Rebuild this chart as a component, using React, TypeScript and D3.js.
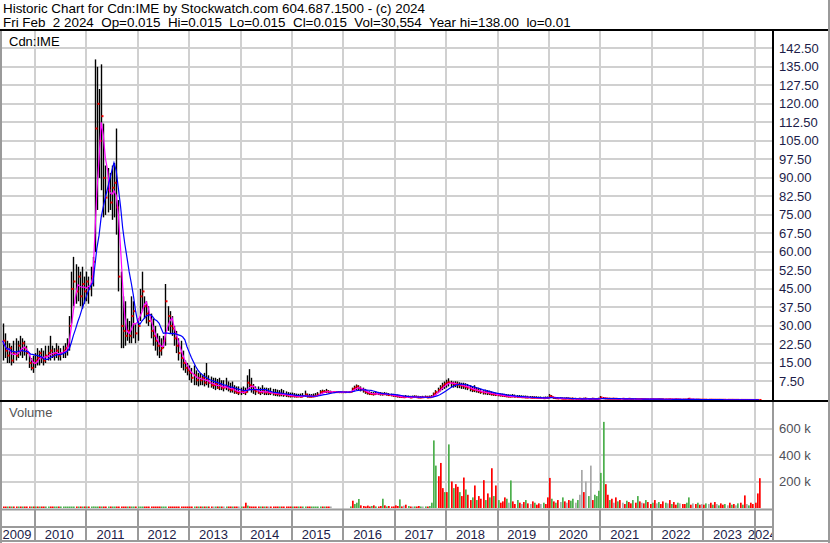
import React from 'react';
import * as d3 from 'd3';

// ---------- text ----------
const HEADER1 = 'Historic Chart for Cdn:IME by Stockwatch.com 604.687.1500 - (c) 2024';
const HEADER2 = 'Fri Feb  2 2024  Op=0.015  Hi=0.015  Lo=0.015  Cl=0.015  Vol=30,554  Year hi=138.00  lo=0.01';
const SYMBOL = 'Cdn:IME';
const VOLUME_TITLE = 'Volume';

// ---------- axes ----------
const PRICE_TICKS = [7.5, 15, 22.5, 30, 37.5, 45, 52.5, 60, 67.5, 75, 82.5, 90, 97.5, 105, 112.5, 120, 127.5, 135, 142.5];
const VOLUME_TICKS = [200000, 400000, 600000];
const YEARS = [2009, 2010, 2011, 2012, 2013, 2014, 2015, 2016, 2017, 2018, 2019, 2020, 2021, 2022, 2023, 2024];

// ---------- half-monthly bars, first bar 2009-05-16, last 2024-02-01 ----------
const HIGH = [
  // 2009
  31, 27, 24, 23, 22, 24, 25, 24, 26, 25, 24, 22, 19, 17, 18,
  // 2010
  19, 21, 20, 21, 20, 22, 22, 26, 22, 21, 23, 22, 21, 22, 23, 25, 34, 52, 58, 55, 54, 52, 54, 50,
  // 2011
  52, 50, 54, 58, 138, 135, 126, 136, 112, 95, 94, 92, 95, 96, 110, 81, 52, 42, 40, 33, 32, 42, 40, 31,
  // 2012
  33, 45, 52, 42, 40, 38, 35, 33, 30, 27, 26, 25, 26, 47, 38, 36, 34, 30, 28, 25, 24, 20, 16, 15,
  // 2013
  14, 13, 14, 12, 11, 11, 10, 11, 15, 10, 9.5, 9, 9, 8.5, 9, 8, 8, 9, 7.5, 7, 7.5, 6, 5.5, 5.5,
  // 2014
  5, 5.5, 5, 10, 12.5, 9, 6.5, 5.5, 5.5, 5, 6, 5, 5, 4.8, 5, 4.5, 4.5, 4.2, 4, 4.5, 4, 3.5, 3.2, 3,
  // 2015
  3, 2.8, 2.6, 2.5, 2.6, 2.8, 3.8, 2.6, 2.5, 2.4, 2.6, 2.8, 3.2, 4, 4.2, 4, 4.5, 4, 3.8, 3.5, 3.3, 3.3, 3.2, 3.2,
  // 2016
  3.2, 3.2, 3.3, 3.5, 5, 5.8, 6.3, 6, 5.5, 5, 4.5, 3.8, 3.5, 3.3, 3.2, 3.5, 3.3, 3.2, 3, 3.2, 3, 2.8, 2.6, 2.5,
  // 2017
  2.4, 2.2, 2, 1.8, 1.8, 2, 1.8, 1.7, 1.8, 1.9, 1.8, 1.7, 1.6, 1.7, 1.8, 1.7, 1.8, 2, 3, 4, 5, 6, 7, 7.5,
  // 2018
  8.2, 8.8, 7.8, 7.5, 7.6, 7.5, 7.2, 7, 7, 6.8, 6.5, 6, 5.5, 6, 5.2, 5, 4.5, 4, 4.2, 4, 3.8, 3.5, 3.2, 3,
  // 2019
  2.8, 2.7, 2.6, 2.5, 2.4, 2.3, 2.2, 2.4, 2.2, 2, 2, 1.9, 1.8, 1.8, 1.7, 1.6, 1.6, 1.5, 1.5, 1.4, 1.4, 1.3, 1.4, 1.4,
  // 2020
  2.4, 2, 1.4, 1.2, 1.2, 1.1, 1, 1, 1.1, 1, 0.9, 1, 0.9, 0.8, 0.9, 0.8, 0.9, 1, 0.8, 0.8, 0.9, 0.8, 0.8, 0.9,
  // 2021
  1.6, 1.2, 1, 0.9, 0.9, 0.8, 0.9, 0.8, 0.8, 0.7, 0.8, 0.7, 0.7, 0.8, 0.7, 0.6, 0.7, 0.6, 0.6, 0.7, 0.6, 0.6, 0.5, 0.6,
  // 2022
  0.6, 0.5, 0.5, 0.6, 0.5, 0.5, 0.5, 0.4, 0.5, 0.4, 0.4, 0.5, 0.4, 0.4, 0.4, 0.3, 0.4, 0.8, 0.3, 0.4, 0.3, 0.3, 0.3, 0.3,
  // 2023
  0.3, 0.3, 0.25, 0.3, 0.25, 0.25, 0.2, 0.25, 0.2, 0.2, 0.2, 0.2, 0.15, 0.2, 0.15, 0.15, 0.15, 0.12, 0.12, 0.1, 0.1, 0.1, 0.08, 0.08,
  // 2024
  0.06, 0.05, 0.02,
];

const LOW = [
  // 2009
  16, 17, 15, 15, 14, 15, 16, 17, 18, 17, 18, 16, 13, 12, 11,
  // 2010
  13, 14, 14, 15, 14, 15, 16, 16, 17, 16, 17, 16, 16, 17, 17, 18, 20, 31, 38, 39, 40, 38, 37, 39,
  // 2011
  40, 39, 42, 46, 60, 77, 90, 85, 74, 75, 76, 77, 73, 74, 67, 44, 21, 21, 22, 24, 23, 23, 25, 23,
  // 2012
  24, 32, 36, 33, 31, 30, 25, 22, 20, 18, 17, 18, 21, 22, 28, 27, 26, 22, 19, 16, 13, 12, 11, 10,
  // 2013
  8, 7, 6, 6, 5.5, 6, 6, 5.5, 6, 5, 5, 4.5, 4, 4.5, 4, 4, 3.5, 4, 3.5, 3, 3, 2.5, 2.5, 2,
  // 2014
  2, 2.5, 2, 3, 4, 3, 2.5, 2, 2.5, 2, 2.5, 2, 2, 2, 2, 1.8, 1.6, 1.5, 1.4, 1.5, 1.3, 1.2, 1.1, 1,
  // 2015
  1.1, 1, 1, 1.1, 1, 1.1, 1.3, 1, 1, 1, 1.1, 1.2, 1.5, 2.5, 2.6, 2.8, 2.8, 2.8, 2.9, 3, 3.1, 3.1, 3.2, 3.2,
  // 2016
  3.2, 3.2, 3.1, 3, 3.2, 3.8, 4, 3.8, 3.5, 3, 2.5, 2.2, 2, 2, 1.8, 2, 2, 1.8, 1.8, 2, 1.8, 1.6, 1.5, 1.3,
  // 2017
  1.2, 1, 0.9, 0.8, 0.8, 0.9, 0.8, 0.7, 0.8, 0.9, 0.8, 0.7, 0.7, 0.8, 0.8, 0.7, 0.8, 0.9, 1.2, 2, 2.8, 3.5, 4, 4.5,
  // 2018
  5, 5.5, 5.2, 5, 5.2, 4.8, 4.8, 4.5, 4.5, 4.2, 4, 3.5, 3.2, 3.2, 3, 2.8, 2.5, 2.2, 2.2, 2, 2, 1.8, 1.7, 1.6,
  // 2019
  1.5, 1.4, 1.3, 1.2, 1.1, 1, 1, 1.1, 1, 0.9, 0.9, 0.8, 0.8, 0.7, 0.7, 0.7, 0.6, 0.6, 0.6, 0.6, 0.5, 0.5, 0.5, 0.5,
  // 2020
  0.8, 0.8, 0.5, 0.4, 0.4, 0.4, 0.3, 0.3, 0.3, 0.3, 0.3, 0.3, 0.3, 0.3, 0.3, 0.2, 0.3, 0.3, 0.3, 0.2, 0.3, 0.2, 0.2, 0.3,
  // 2021
  0.4, 0.4, 0.3, 0.3, 0.3, 0.3, 0.3, 0.3, 0.2, 0.2, 0.3, 0.2, 0.2, 0.3, 0.2, 0.2, 0.2, 0.2, 0.2, 0.2, 0.2, 0.2, 0.2, 0.2,
  // 2022
  0.2, 0.15, 0.15, 0.2, 0.15, 0.15, 0.15, 0.1, 0.15, 0.1, 0.1, 0.15, 0.1, 0.1, 0.1, 0.1, 0.1, 0.2, 0.1, 0.1, 0.1, 0.1, 0.08, 0.08,
  // 2023
  0.08, 0.08, 0.07, 0.08, 0.06, 0.06, 0.05, 0.06, 0.05, 0.05, 0.05, 0.04, 0.04, 0.04, 0.03, 0.03, 0.03, 0.03, 0.02, 0.02, 0.02, 0.02, 0.015, 0.015,
  // 2024
  0.015, 0.015, 0.015,
];

const CLOSE = [
  // 2009
  24, 20, 18, 21, 16, 19, 18, 22, 20, 23, 21, 19, 15, 13, 15,
  // 2010
  16, 17, 19, 17, 16, 18, 19, 20, 18, 19, 20, 18, 19, 20, 21, 22, 30, 45, 48, 44, 50, 42, 47, 44,
  // 2011
  48, 45, 50, 56, 110, 120, 105, 115, 90, 82, 85, 80, 86, 88, 78, 50, 30, 28, 26, 28, 26, 34, 36, 27,
  // 2012
  30, 42, 44, 38, 35, 32, 28, 26, 24, 22, 20, 21, 24, 40, 34, 30, 29, 25, 22, 19, 17, 15, 13, 12,
  // 2013
  11, 9, 10, 8, 9, 8, 9, 7, 8, 7, 6, 6, 6.5, 5, 6, 5, 5, 5.5, 4.5, 4, 4.5, 3.5, 3, 3,
  // 2014
  3.5, 3, 3.2, 7, 6, 5.5, 4, 3.5, 3, 3.2, 4, 3, 3.2, 2.8, 3, 2.6, 2.5, 2.4, 2.2, 2.5, 2.1, 1.9, 1.8, 1.6,
  // 2015
  1.7, 1.5, 1.4, 1.5, 1.3, 1.6, 2.2, 1.4, 1.3, 1.4, 1.5, 1.7, 2.2, 3.2, 3.4, 3.3, 3.5, 3.2, 3.2, 3.2, 3.2, 3.2, 3.2, 3.2,
  // 2016
  3.2, 3.2, 3.2, 3.3, 4.5, 5, 5.5, 4.8, 4.2, 3.8, 3.2, 2.8, 2.5, 2.4, 2.4, 2.6, 2.5, 2.5, 2.3, 2.4, 2.2, 2, 1.9, 1.8,
  // 2017
  1.6, 1.5, 1.3, 1.2, 1.1, 1.3, 1.2, 1, 1.2, 1.3, 1.1, 1, 1, 1.1, 1.2, 1, 1.1, 1.4, 2.5, 3.2, 4, 5, 5.8, 6.5,
  // 2018
  7, 7.2, 6.8, 6.3, 6.6, 6.2, 6, 5.8, 5.5, 5.3, 5, 4.5, 4, 4.2, 3.8, 3.5, 3.2, 3, 3.2, 2.8, 2.6, 2.4, 2.3, 2.1,
  // 2019
  2, 1.9, 1.8, 1.6, 1.5, 1.4, 1.4, 1.5, 1.3, 1.2, 1.2, 1.1, 1.1, 1, 1, 0.9, 0.9, 0.9, 0.8, 0.8, 0.8, 0.7, 0.8, 0.8,
  // 2020
  1.6, 1.2, 0.8, 0.7, 0.6, 0.6, 0.5, 0.5, 0.6, 0.5, 0.5, 0.5, 0.4, 0.4, 0.5, 0.4, 0.5, 0.5, 0.4, 0.4, 0.5, 0.4, 0.4, 0.5,
  // 2021
  1, 0.7, 0.6, 0.5, 0.5, 0.5, 0.5, 0.5, 0.4, 0.4, 0.5, 0.4, 0.4, 0.5, 0.4, 0.3, 0.4, 0.35, 0.35, 0.4, 0.35, 0.3, 0.3, 0.35,
  // 2022
  0.35, 0.3, 0.3, 0.35, 0.3, 0.3, 0.25, 0.25, 0.3, 0.25, 0.2, 0.3, 0.25, 0.2, 0.2, 0.2, 0.2, 0.5, 0.18, 0.2, 0.17, 0.16, 0.15, 0.15,
  // 2023
  0.14, 0.14, 0.12, 0.14, 0.11, 0.11, 0.1, 0.11, 0.09, 0.09, 0.09, 0.08, 0.07, 0.08, 0.06, 0.06, 0.06, 0.05, 0.04, 0.04, 0.035, 0.03, 0.025, 0.02,
  // 2024
  0.02, 0.02, 0.015,
];

// volume in thousands of shares
const VOLUME_K = [
  // 2009
  6, 5, 7, 4, 5, 6, 4, 5, 7, 5, 4, 6, 5, 4, 6,
  // 2010
  5, 4, 6, 5, 4, 5, 7, 5, 4, 6, 5, 5, 4, 6, 5, 7, 8, 6, 5, 7, 6, 5, 6, 5,
  // 2011
  6, 5, 7, 12, 8, 7, 6, 5, 6, 5, 7, 6, 5, 6, 5, 4, 6, 5, 4, 5, 6, 5, 4, 5,
  // 2012
  5, 4, 5, 6, 5, 4, 5, 5, 4, 6, 5, 4, 5, 6, 5, 4, 5, 4, 6, 5, 4, 5, 5, 4,
  // 2013
  5, 4, 5, 4, 6, 5, 4, 5, 4, 5, 6, 4, 5, 4, 5, 4, 6, 5, 4, 5, 4, 5, 4, 5,
  // 2014
  6, 8, 40, 18, 12, 8, 6, 5, 7, 6, 5, 6, 5, 4, 6, 5, 4, 5, 6, 5, 4, 5, 4, 5,
  // 2015
  4, 5, 4, 6, 5, 4, 5, 4, 6, 5, 4, 5, 6, 5, 4, 5, 4, 5, 3, 0, 0, 0, 0, 0,
  // 2016
  0, 0, 0, 12, 55, 30, 40, 68, 20, 15, 12, 18, 10, 15, 20, 12, 10, 15, 70, 20, 12, 15, 10, 12,
  // 2017
  20, 15, 65, 12, 18, 25, 15, 10, 8, 12, 10, 15, 8, 10, 12, 8, 15, 40, 510, 320, 240, 340, 150, 120,
  // 2018
  120, 480, 200, 150, 180, 160, 120, 90, 230, 140, 100, 60, 80, 170, 60, 90, 70, 210, 60, 110, 80, 300, 90, 170,
  // 2019
  60, 40, 50, 80, 70, 40, 208, 50, 30, 60, 40, 30, 45, 60, 35, 30, 50, 40, 25, 35, 30, 40, 30, 80,
  // 2020
  227, 70, 50, 40, 60, 45, 80, 50, 40, 60, 55, 70, 40, 60, 100, 287, 120, 200, 90, 320, 60, 100, 90, 130,
  // 2021
  265, 650, 180, 100, 60, 70, 40, 80, 50, 60, 40, 30, 55, 45, 35, 60, 40, 90, 50, 40, 35, 60, 45, 30,
  // 2022
  40, 60, 35, 45, 30, 50, 40, 35, 60, 30, 45, 25, 40, 35, 30, 30, 40, 80, 25, 35, 30, 40, 25, 30,
  // 2023
  25, 35, 30, 40, 25, 45, 30, 20, 35, 25, 30, 20, 40, 25, 30, 20, 35, 40, 25, 95, 30, 20, 40, 30,
  // 2024
  40, 110, 225,
];

// 1 = up (green), -1 = down (red), 0 = unchanged (grey)
const DIRECTION = [
  // 2009
  -1, -1, 1, -1, 1, -1, -1, 1, -1, 1, -1, -1, -1, 1, -1,
  // 2010
  1, -1, 1, -1, -1, 1, 1, -1, -1, 1, 1, -1, 1, 1, 1, 1, 1, 1, 1, -1, 1, -1, 1, -1,
  // 2011
  1, -1, 1, 1, 1, 1, -1, 1, -1, -1, 1, -1, 1, 1, -1, -1, -1, -1, -1, 1, -1, 1, 1, -1,
  // 2012
  1, 1, 1, -1, -1, -1, -1, -1, -1, -1, -1, 1, 1, 1, -1, -1, -1, -1, -1, -1, -1, -1, -1, -1,
  // 2013
  -1, -1, 1, -1, 1, -1, 1, -1, 1, -1, -1, 0, 1, -1, 1, -1, 0, 1, -1, -1, 1, -1, -1, 0,
  // 2014
  1, -1, -1, 1, -1, -1, -1, -1, -1, 1, -1, 1, -1, 0, -1, -1, -1, -1, 1, -1, -1, -1, -1, -1,
  // 2015
  1, -1, -1, 1, -1, 1, 1, -1, -1, 1, 1, 1, 1, 1, -1, 1, -1, -1, 0, 0, 0, 0, 0, 0,
  // 2016
  0, 0, 0, 1, -1, 1, 1, 1, -1, -1, -1, -1, -1, 1, -1, 1, -1, -1, 1, -1, 1, -1, -1, -1,
  // 2017
  -1, -1, 1, -1, 0, -1, 1, -1, 0, 1, -1, -1, 1, 0, 1, -1, 1, 1, 1, 1, -1, -1, -1, 1,
  // 2018
  -1, 1, -1, 1, -1, -1, 1, -1, -1, 1, -1, -1, 1, -1, 1, -1, -1, -1, 1, -1, 1, -1, 1, -1,
  // 2019
  1, -1, -1, -1, 1, 0, 1, -1, -1, 1, -1, 0, -1, 1, -1, 0, -1, 1, -1, -1, 0, 1, -1, -1,
  // 2020
  -1, 1, -1, 1, -1, 0, 1, -1, 0, -1, 1, 1, 0, 1, 0, 0, -1, 0, 1, 0, -1, 1, 1, 1,
  // 2021
  1, 1, -1, -1, 1, -1, 0, -1, 1, -1, 0, -1, 1, -1, -1, 1, -1, 1, -1, 0, -1, 1, -1, -1,
  // 2022
  1, -1, 0, 1, -1, -1, 1, 0, -1, 1, -1, -1, 1, 0, -1, -1, 1, 1, -1, 0, -1, 1, -1, 0,
  // 2023
  -1, 1, 0, -1, 1, -1, 0, 1, -1, -1, 1, 0, -1, 1, -1, 0, 1, -1, 1, -1, 0, 1, -1, -1,
  // 2024
  -1, -1, -1,
];

const SHORT_MA = 4; // bars
const LONG_MA = 10; // bars

// bar dates: half-month steps starting 2009-05-16
const DATES = CLOSE.map((_, k) => new Date(2009, 4 + Math.floor((k + 1) / 2), k % 2 === 0 ? 16 : 1));

function sma(values: number[], n: number): number[] {
  return values.map((_, i) => d3.mean(values.slice(Math.max(0, i - n + 1), i + 1)) as number);
}

const W = 830;
const H = 543;
const PLOT_L = 2;
const PLOT_R = 773;
const P_TOP = 31;
const P_BOT = 400;
const V_TOP = 402;
const V_BOT = 509;
const V_BASE = 508;

const FONT = '"Liberation Sans", Arial, sans-serif';
const GRID = '#d0d0d0';
const FRAME = '#9a9a9a';

export default function App() {
  const x = d3.scaleTime().domain([new Date(2010, 0, 1), new Date(2024, 0, 1)]).range([35, 754.6]);
  const yP = d3.scaleLinear().domain([0, 142.5]).range([P_BOT, 48.3]);
  const yV = d3.scaleLinear().domain([0, 600000]).range([V_BASE, 428.5]);

  const maShort = sma(CLOSE, SHORT_MA);
  const maLong = sma(CLOSE, LONG_MA);
  const line = d3
    .line<number>()
    .x((_, i) => x(DATES[i]))
    .y((d) => yP(d));

  const yearStarts = YEARS.map((yr) => x(new Date(yr, 0, 1)));
  const gridX = yearStarts.filter((v) => v > PLOT_L && v < PLOT_R).map((v) => Math.round(v));
  const volColor = (d: number) => (d > 0 ? '#4caf4c' : d < 0 ? '#ff0000' : '#a8a8a8');

  return (
    <svg
      width={W}
      height={H}
      style={{ position: 'absolute', left: 0, top: 0, background: '#fff' }}
      fontFamily={FONT}
    >
      <defs>
        <clipPath id="pclip">
          <rect x={PLOT_L} y={P_TOP} width={PLOT_R - PLOT_L - 1} height={P_BOT - P_TOP} />
        </clipPath>
        <clipPath id="vclip">
          <rect x={PLOT_L} y={V_TOP} width={PLOT_R - PLOT_L - 1} height={V_BOT - V_TOP} />
        </clipPath>
        <clipPath id="xclip">
          <rect x={PLOT_L} y={510} width={PLOT_R - PLOT_L - 1} height={32} />
        </clipPath>
      </defs>
      <rect x={0} y={0} width={W} height={H} fill="#fff" />

      {/* header */}
      <text x={3} y={12.5} fontSize={13.4} fill="#000" xmlSpace="preserve" style={{ whiteSpace: 'pre' }}>
        {HEADER1}
      </text>
      <text x={3} y={26.5} fontSize={13.4} fill="#000" xmlSpace="preserve" style={{ whiteSpace: 'pre' }}>
        {HEADER2}
      </text>

      {/* price grid */}
      {PRICE_TICKS.map((t) => (
        <line key={'pg' + t} x1={PLOT_L} x2={PLOT_R} y1={Math.round(yP(t))} y2={Math.round(yP(t))} stroke={GRID} strokeWidth={2} />
      ))}
      {gridX.map((gx) => (
        <line key={'pv' + gx} x1={gx} x2={gx} y1={P_TOP} y2={P_BOT} stroke={GRID} strokeWidth={2} />
      ))}

      {/* volume grid */}
      {VOLUME_TICKS.map((t) => (
        <line key={'vg' + t} x1={PLOT_L} x2={PLOT_R} y1={Math.round(yV(t))} y2={Math.round(yV(t))} stroke={GRID} strokeWidth={2} />
      ))}
      {gridX.map((gx) => (
        <line key={'vv' + gx} x1={gx} x2={gx} y1={V_TOP} y2={V_BOT} stroke={GRID} strokeWidth={2} />
      ))}

      {/* price bars */}
      <g clipPath="url(#pclip)">
        {CLOSE.map((c, i) => {
          const bx = Math.round(x(DATES[i])) + 0.5;
          const y1 = yP(HIGH[i]);
          const y2 = Math.max(yP(LOW[i]), y1 + 1);
          return <line key={'b' + i} x1={bx} x2={bx} y1={y1} y2={y2} stroke="#000" strokeWidth={1.4} />;
        })}
        {CLOSE.map((c, i) => (
          <rect key={'c' + i} x={Math.round(x(DATES[i])) + 0.5} y={yP(c) - 1} width={2} height={2} fill="#ff0000" />
        ))}
        <path d={line(maShort) || ''} fill="none" stroke="#ff00ff" strokeWidth={1.2} />
        <path d={line(maLong) || ''} fill="none" stroke="#0000ff" strokeWidth={1.2} />
      </g>

      {/* volume bars */}
      <g clipPath="url(#vclip)">
        {VOLUME_K.map((v, i) => {
          if (v <= 0) return null;
          const top = Math.min(yV(v * 1000), V_BASE - 1.5);
          return (
            <rect
              key={'v' + i}
              x={Math.round(x(DATES[i]))}
              y={top}
              width={1.7}
              height={V_BASE - top}
              fill={volColor(DIRECTION[i])}
            />
          );
        })}
      </g>

      {/* frames */}
      <line x1={0} x2={828} y1={30} y2={30} stroke="#000" strokeWidth={2} />
      <line x1={1} x2={1} y1={31} y2={H} stroke={FRAME} strokeWidth={2} />
      <line x1={829} x2={829} y1={0} y2={H} stroke={FRAME} strokeWidth={2} />
      <line x1={PLOT_R} x2={PLOT_R} y1={31} y2={P_BOT} stroke="#000" strokeWidth={2} />
      <line x1={0} x2={828} y1={401} y2={401} stroke="#000" strokeWidth={2} />
      <line x1={PLOT_R} x2={PLOT_R} y1={402} y2={541} stroke={FRAME} strokeWidth={2} />
      <line x1={0} x2={PLOT_R} y1={V_BOT + 0.5} y2={V_BOT + 0.5} stroke={FRAME} strokeWidth={2} />
      <line x1={0} x2={PLOT_R} y1={527} y2={527} stroke={FRAME} strokeWidth={2} />
      <line x1={0} x2={828} y1={541} y2={541} stroke={FRAME} strokeWidth={2} />
      {gridX.map((gx) => (
        <line key={'xs' + gx} x1={gx} x2={gx} y1={510} y2={541} stroke={FRAME} strokeWidth={2} />
      ))}

      {/* labels */}
      <text x={9} y={46} fontSize={13} fill="#000">
        {SYMBOL}
      </text>
      <text x={9} y={417} fontSize={13} fill="#555">
        {VOLUME_TITLE}
      </text>
      {PRICE_TICKS.map((t) => (
        <text key={'pl' + t} x={779} y={yP(t) + 4.5} fontSize={13} fill="#1c1c48">
          {t.toFixed(2)}
        </text>
      ))}
      {VOLUME_TICKS.map((t) => (
        <text key={'vl' + t} x={779} y={yV(t) + 4.5} fontSize={13} fill="#505058">
          {`${t / 1000} k`}
        </text>
      ))}
      <g clipPath="url(#xclip)">
        {YEARS.map((yr, k) => {
          const s = Math.max(PLOT_L, yearStarts[k]);
          const e = Math.min(PLOT_R, k + 1 < yearStarts.length ? yearStarts[k + 1] : x(new Date(yr + 1, 0, 1)));
          return (
            <text key={'yl' + yr} x={(s + e) / 2 - 1.5} y={539} fontSize={13} fill="#1c1c48" textAnchor="middle">
              {String(yr)}
            </text>
          );
        })}
      </g>
    </svg>
  );
}
